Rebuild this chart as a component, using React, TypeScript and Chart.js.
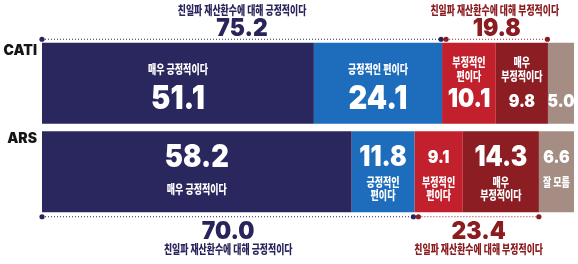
import React, { useEffect, useRef } from "react";
import { Chart, registerables } from "chart.js";

Chart.register(...registerables);

const categories = ["CATI", "ARS"];
const segmentNames = ["매우 긍정적이다", "긍정적인 편이다", "부정적인 편이다", "매우 부정적이다", "잘 모름"];
const veryPositive = [51.1, 58.2];
const somewhatPositive = [24.1, 11.8];
const somewhatNegative = [10.1, 9.1];
const veryNegative = [9.8, 14.3];
const dontKnow = [5.0, 6.6];
const positiveTotals = [75.2, 70.0];
const negativeTotals = [19.8, 23.4];
const positiveTitle = "친일파 재산환수에 대해 긍정적이다";
const negativeTitle = "친일파 재산환수에 대해 부정적이다";
// inner label lines per category / segment
const innerLabels = [
  [["매우 긍정적이다"], ["긍정적인 편이다"], ["부정적인", "편이다"], ["매우", "부정적이다"], []],
  [["매우 긍정적이다"], ["긍정적인", "편이다"], ["부정적인", "편이다"], ["매우", "부정적이다"], ["잘 모름"]],
];

const colors = ["#2a265e", "#1d6dbc", "#c2202c", "#8c1d22", "#a68d84"];
const NAVY = "#29245b";
const DARKRED = "#8b1c20";
const numSizes = [
  [33, 33, 26, 18, 18],
  [31, 28, 18, 28, 18],
];
const KFONT = '"Noto Sans CJK KR", "Noto Sans", sans-serif';
const NFONT = 'Inter, "Noto Sans", sans-serif';

function drawText(ctx: CanvasRenderingContext2D, text: string, x: number, y: number, font: string, color: string, sx = 1) {
  ctx.save();
  ctx.translate(x, y);
  ctx.scale(sx, 1);
  ctx.font = font;
  ctx.fillStyle = color;
  ctx.textAlign = "center";
  ctx.textBaseline = "middle";
  ctx.fillText(text, 0, 0);
  ctx.restore();
}

function bracket(ctx: CanvasRenderingContext2D, x1: number, x2: number, y: number, color: string) {
  ctx.save();
  ctx.strokeStyle = color;
  ctx.lineWidth = 1;
  ctx.setLineDash([1, 2]);
  ctx.beginPath();
  ctx.moveTo(x1, y + 0.5);
  ctx.lineTo(x2, y + 0.5);
  ctx.stroke();
  ctx.setLineDash([]);
  ctx.fillStyle = color;
  for (const x of [x1, x2]) {
    ctx.beginPath();
    ctx.arc(x, y + 0.5, 2.6, 0, Math.PI * 2);
    ctx.fill();
  }
  ctx.restore();
}

const overlayPlugin = {
  id: "overlay",
  afterDatasetsDraw(chart: any) {
    const ctx: CanvasRenderingContext2D = chart.ctx;
    const xs = chart.scales.x;
    const series = [veryPositive, somewhatPositive, somewhatNegative, veryNegative, dontKnow];
    categories.forEach((cat, ci) => {
      const meta0 = chart.getDatasetMeta(0);
      const bar = meta0.data[ci];
      const top = bar.y - bar.height / 2;
      const bottom = bar.y + bar.height / 2;
      // category label
      ctx.save();
      ctx.font = `900 14px ${NFONT}`;
      ctx.fillStyle = "#151515";
      ctx.textAlign = "right";
      ctx.textBaseline = "middle";
      ctx.fillText(cat, 37, top + 8);
      ctx.restore();
      // segments
      let cum = 0;
      series.forEach((arr, si) => {
        const v = arr[ci];
        const x0 = xs.getPixelForValue(cum);
        const x1 = Math.min(xs.getPixelForValue(cum + v), chart.chartArea.right);
        cum += v;
        const cx = (x0 + x1) / 2;
        const lines = innerLabels[ci][si];
        const ns = numSizes[ci][si];
        const numFont = `900 ${ns}px ${NFONT}`;
        const lblFont = `900 12px ${KFONT}`;
        if (ci === 0) {
          if (lines.length === 1) {
            drawText(ctx, lines[0], cx, top + 27, lblFont, "#ffffff", 0.75);
          } else {
            lines.forEach((l, li) => drawText(ctx, l, cx, top + 20 + li * 14, lblFont, "#ffffff", 0.75));
          }
          drawText(ctx, v.toFixed(1), cx, top + (ns > 25 ? 56 : 59), numFont, "#ffffff", 0.88);
        } else {
          drawText(ctx, v.toFixed(1), cx, top + 26, numFont, "#ffffff", 0.88);
          if (si === 0) {
            drawText(ctx, lines[0], cx, top + 58, lblFont, "#ffffff", 0.75);
          } else {
            lines.forEach((l, li) => drawText(ctx, l, cx, top + 51 + li * 13, lblFont, "#ffffff", 0.75));
          }
        }
      });
      // brackets
      const pStart = xs.getPixelForValue(0);
      const pEnd = xs.getPixelForValue(positiveTotals[ci]);
      const nStart = pEnd + 4;
      const nEnd = xs.getPixelForValue(positiveTotals[ci] + negativeTotals[ci]);
      const by = ci === 0 ? top - 4 : bottom + 4;
      bracket(ctx, pStart, pEnd - 1, by, NAVY);
      bracket(ctx, nStart, nEnd, by, DARKRED);
      const pc = (pStart + pEnd) / 2;
      const nc = (nStart + nEnd) / 2;
      const bigFont = `900 24px ${NFONT}`;
      const tFont = `900 12px ${KFONT}`;
      if (ci === 0) {
        drawText(ctx, positiveTitle, pc, 10, tFont, NAVY, 0.74);
        drawText(ctx, positiveTotals[ci].toFixed(1), pc, 29, bigFont, NAVY, 0.95);
        drawText(ctx, negativeTitle, nc - 2, 10, tFont, DARKRED, 0.74);
        drawText(ctx, negativeTotals[ci].toFixed(1), nc, 29, bigFont, DARKRED, 0.95);
      } else {
        drawText(ctx, positiveTotals[ci].toFixed(1), pc, 232, bigFont, NAVY, 0.95);
        drawText(ctx, positiveTitle, pc, 249, tFont, NAVY, 0.74);
        drawText(ctx, negativeTotals[ci].toFixed(1), nc, 232, bigFont, DARKRED, 0.95);
        drawText(ctx, negativeTitle, nc, 249, tFont, DARKRED, 0.74);
      }
    });
  },
};

export default function App() {
  const ref = useRef<HTMLCanvasElement | null>(null);
  useEffect(() => {
    if (!ref.current) return;
    const series = [veryPositive, somewhatPositive, somewhatNegative, veryNegative, dontKnow];
    const chart = new Chart(ref.current, {
      type: "bar",
      data: {
        labels: categories,
        datasets: series.map((d, i) => ({
          label: segmentNames[i],
          data: d,
          backgroundColor: colors[i],
          borderWidth: 0,
          barPercentage: 1,
          categoryPercentage: 0.915,
        })),
      },
      options: {
        indexAxis: "y",
        responsive: false,
        animation: false,
        layout: { padding: { left: 42, right: 4, top: 39, bottom: 48 } },
        scales: {
          x: { stacked: true, min: 0, max: 100, display: false },
          y: { stacked: true, display: false },
        },
        plugins: { legend: { display: false }, tooltip: { enabled: false } },
      },
      plugins: [overlayPlugin],
    } as any);
    return () => chart.destroy();
  }, []);
  return (
    <div style={{ position: "fixed", left: 0, top: 0, width: 578, height: 264, background: "#ffffff" }}>
      <canvas ref={ref} width={578} height={264} style={{ width: 578, height: 264, display: "block" }} />
    </div>
  );
}
